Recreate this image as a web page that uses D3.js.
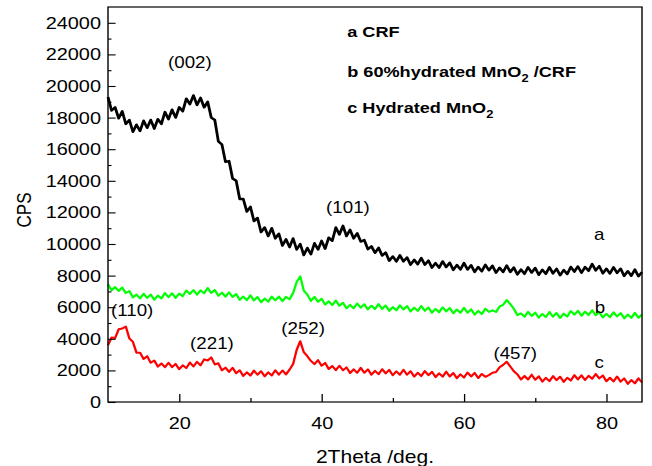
<!DOCTYPE html>
<html>
<head>
<meta charset="utf-8">
<script src="https://cdn.jsdelivr.net/npm/d3@7"></script>
<style>
  body { margin: 0; background: #fff; }
  svg text { font-family: "Liberation Sans", Arial, sans-serif; fill: #000; }
</style>
</head>
<body>
<div id="chart"></div>
<script>
// 2Theta sampled every 0.5 deg from 10 to 85
var thetaStart = 10, thetaStep = 0.5

var crf = [19300,18450,18650,17950,18400,17600,17850,17100,17550,17150,
  17800,17350,17850,17300,17900,17600,18350,17900,18500,18000,
  18650,18400,19200,18850,19400,18800,19250,18650,19000,18000,
  17850,16500,16300,15200,15250,14150,14000,12850,12850,12050,
  12350,11450,11650,10750,11050,10500,11000,10350,10650,9900,
  10300,9800,10350,9650,10000,9300,9750,9350,10050,9650,
  10200,9700,10400,10200,11050,10600,11150,10500,10900,10350,
  10680,10150,10250,9670,9850,9440,9760,9270,9460,8940,
  9215,8900,9280,8900,9150,8690,9000,8720,9110,8690,
  8950,8500,8795,8500,8900,8540,8810,8360,8670,8390,
  8790,8380,8660,8230,8545,8270,8680,8340,8620,8180,
  8500,8230,8640,8230,8510,8070,8385,8110,8530,8190,
  8480,8050,8370,8110,8530,8140,8430,8020,8355,8100,
  8550,8250,8580,8180,8540,8300,8730,8330,8600,8140,
  8435,8130,8530,8170,8440,7980,8280,7990,8380,7960,
  8220]

var mno2crf = [7450,7075,7275,7025,7250,6900,7025,6620,6800,6550,
  6855,6585,6800,6475,6735,6555,6900,6630,6885,6590,
  6870,6700,7055,6835,7090,6795,7065,6885,7220,6900,
  7085,6720,6920,6670,6945,6645,6830,6465,6675,6445,
  6750,6430,6645,6310,6550,6350,6675,6435,6670,6385,
  6650,6500,6900,7600,7950,7050,6800,6400,6655,6345,
  6530,6165,6375,6135,6420,6090,6285,5930,6150,5930,
  6235,5975,6190,5855,6095,5885,6200,5890,6105,5770,
  6010,5800,6115,5855,6070,5735,5975,5765,6080,5770,
  5985,5650,5890,5680,5995,5735,5950,5615,5855,5645,
  5960,5650,5865,5530,5770,5570,5905,5705,5800,5700,
  6050,6150,6450,6200,5900,5500,5610,5390,5705,5445,
  5660,5335,5575,5375,5700,5400,5635,5320,5590,5410,
  5755,5525,5770,5455,5715,5505,5810,5490,5695,5350,
  5580,5370,5675,5415,5630,5295,5535,5325,5640,5330,
  5545]

var mno2 = [3600,4075,4050,4600,4650,4775,4025,3800,3125,3125,
  2725,2900,2480,2625,2240,2440,2200,2485,2205,2410,
  2075,2325,2145,2500,2250,2545,2320,2700,2630,2825,
  2375,2450,2005,2175,1905,2170,1820,2005,1650,1880,
  1670,1985,1725,1950,1625,1875,1675,2010,1730,1995,
  1750,2050,2400,3300,3850,3150,2900,2600,2395,2650,
  2300,2475,2090,2280,2020,2295,2005,2190,1835,2065,
  1845,2160,1850,2065,1730,1970,1760,2075,1815,2030,
  1695,1935,1725,2040,1730,1945,1610,1850,1640,1955,
  1695,1910,1575,1815,1605,1920,1615,1835,1505,1750,
  1545,1865,1615,1840,1515,1775,1595,1700,1850,1900,
  2200,2350,2550,2250,1950,1750,1425,1645,1425,1730,
  1410,1625,1290,1530,1320,1635,1380,1600,1275,1535,
  1355,1700,1430,1685,1390,1660,1470,1775,1495,1680,
  1315,1535,1305,1610,1290,1495,1150,1390,1180,1495,
  1235]

var seriesColors = ["#000000", "#00ff00", "#ff0000"]
var seriesWidths = [2.4, 2, 2]

var yTicks = [0,2000,4000,6000,8000,10000,12000,14000,16000,18000,20000,22000,24000]
var yMinor = [1000,3000,5000,7000,9000,11000,13000,15000,17000,19000,21000,23000]
var xTicks = [20,40,60,80]
var xMinor = [30,50,70]

// peak labels: text, theta, cps (centre of label)
var peakText  = ["(002)","(101)","(110)","(221)","(252)","(457)"]
var peakTheta = [21.5, 43.7, 13.4, 24.6, 37.4, 67.2]
var peakCps   = [21520, 12340, 5820, 3730, 4680, 3100]

var curveText  = ["a","b","c"]
var curveTheta = [79, 79.1, 79]
var curveCps   = [10630, 6010, 2530]

var width = 652, height = 466
// the original picture is stretched sideways, so draw in a narrower space and scale x
var S = 1.17

var x = d3.scaleLinear().domain([10, 85]).range([108 / S, 642 / S])
var y = d3.scaleLinear().domain([0, 25000]).range([402, 7])

var svg = d3.select("#chart").append("svg")
    .attr("width", width)
    .attr("height", height)
var g = svg.append("g").attr("transform", `scale(${S},1)`)

/* curves */
var line = d3.line()
    .x((d, i) => x(thetaStart + i * thetaStep))
    .y(d => y(d))

g.append("g").selectAll("path")
    .data([crf, mno2crf, mno2]).enter()
    .append("path")
    .attr("d", d => line(d))
    .attr("fill", "none")
    .attr("stroke", (d, i) => seriesColors[i])
    .attr("stroke-width", (d, i) => seriesWidths[i])
    .attr("stroke-linejoin", "round")

/* axes, ticks inward */
g.append("g")
    .attr("transform", `translate(${x(10)},0)`)
    .call(d3.axisLeft(y).tickValues(yTicks).tickFormat(d3.format("d"))
        .tickSizeInner(-6.5).tickSizeOuter(0).tickPadding(6))
g.append("g")
    .attr("transform", `translate(${x(10)},0)`)
    .call(d3.axisLeft(y).tickValues(yMinor).tickSizeInner(-3).tickSizeOuter(0).tickFormat(""))

g.append("g")
    .attr("transform", `translate(0,${y(0)})`)
    .call(d3.axisBottom(x).tickValues(xTicks).tickFormat(d3.format("d"))
        .tickSizeInner(-8).tickSizeOuter(0).tickPadding(15))
g.append("g")
    .attr("transform", `translate(0,${y(0)})`)
    .call(d3.axisBottom(x).tickValues(xMinor).tickSizeInner(-4).tickSizeOuter(0).tickFormat(""))

g.selectAll(".domain").remove()
g.selectAll(".tick line").attr("stroke", "#000").attr("stroke-width", 1.1)
g.selectAll(".tick text").style("font-size", "17px").attr("fill", "#000")

// frame
g.append("rect")
    .attr("x", x(10)).attr("y", y(25000))
    .attr("width", x(85) - x(10)).attr("height", y(0) - y(25000))
    .attr("fill", "none").attr("stroke", "#000").attr("stroke-width", 1.2)

/* axis titles */
g.append("text")
    .attr("x", (x(10) + x(85)) / 2)
    .attr("y", 463)
    .attr("text-anchor", "middle")
    .style("font-size", "18px")
    .text("2Theta /deg.")

g.append("text")
    .attr("transform", `translate(${31 / S},210) rotate(-90)`)
    .attr("text-anchor", "middle")
    .style("font-size", "17px")
    .text("CPS")

/* peak labels */
g.append("g").selectAll("text")
    .data(peakText).enter()
    .append("text")
    .attr("x", (d, i) => x(peakTheta[i]))
    .attr("y", (d, i) => y(peakCps[i]))
    .attr("dy", "0.35em")
    .attr("text-anchor", "middle")
    .style("font-size", "16px")
    .text(d => d)

g.append("g").selectAll("text")
    .data(curveText).enter()
    .append("text")
    .attr("x", (d, i) => x(curveTheta[i]))
    .attr("y", (d, i) => y(curveCps[i]))
    .attr("dy", "0.35em")
    .attr("text-anchor", "middle")
    .style("font-size", "16px")
    .text(d => d)

/* legend text */
var legendTheta = 43.6
var legendCps = [23100, 20570, 18290]
var legendParts = [
    [["a CRF", 0]],
    [["b 60%hydrated MnO", 0], ["2", 1], [" /CRF", 0]],
    [["c Hydrated MnO", 0], ["2", 1]]
]

legendParts.forEach((parts, k) => {
    var t = g.append("text")
        .attr("x", x(legendTheta))
        .attr("y", y(legendCps[k]))
        .style("font-size", "15.5px")
        .style("font-weight", "bold")
        .attr("xml:space", "preserve")
    parts.forEach(p => {
        var s = t.append("tspan").text(p[0])
        if (p[1]) s.attr("dy", 5).style("font-size", "11px")
        else if (t.selectAll("tspan").size() > 1) s.attr("dy", -5)
    })
})
</script>
</body>
</html>
